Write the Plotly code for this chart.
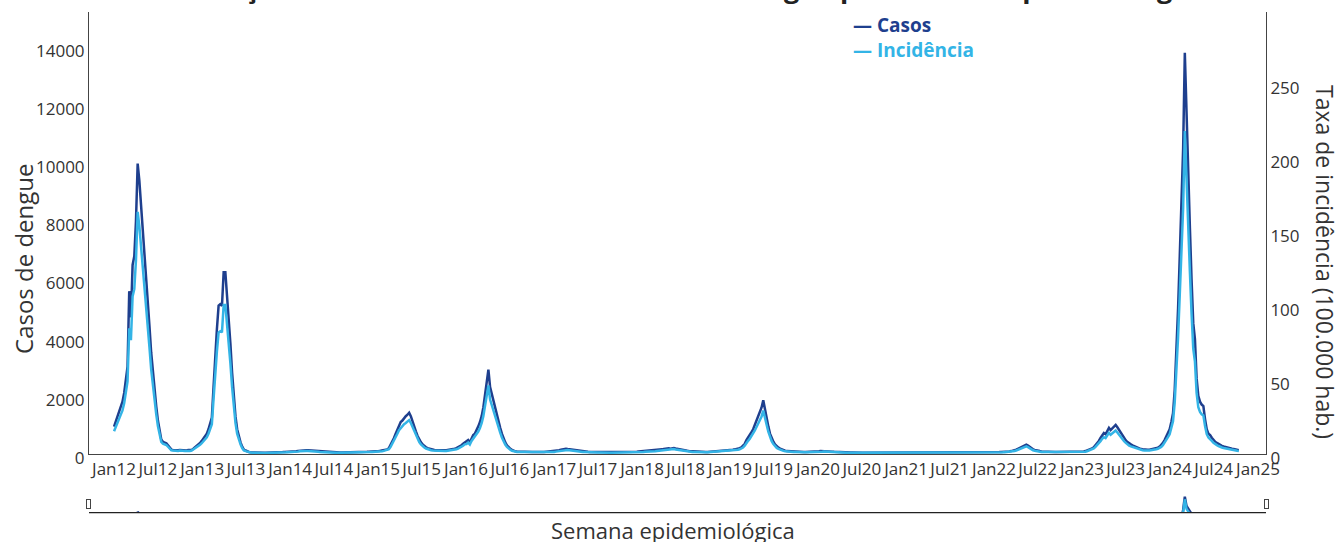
import pandas as pd
import plotly.graph_objects as go

# ---------------- data (weekly) ----------------
casos_2012 = [940, 1100, 1300, 1450, 1650, 1800, 2100, 2500, 3000, 5600,
              4700, 6500, 6800, 8000, 9990, 9400, 8600, 7800, 7000, 6300,
              5300, 4400, 3500, 2800, 2200, 1650, 1150, 750, 500, 420,
              400, 370, 300, 220, 150, 140, 130, 120, 130, 140,
              130, 120, 130, 120, 140, 130, 140, 180, 230, 260,
              310, 380]
casos_2013 = [450, 520, 600, 700, 850, 1050, 1250, 2300, 3550, 4300,
              5100, 5150, 5100, 6250, 6250, 5500, 4800, 3800, 2800, 1850,
              1300, 850, 600, 400, 250, 150, 120, 90, 70, 60,
              55, 50, 50, 45, 45, 40, 40, 40, 45, 45,
              40, 40, 45, 50, 50, 55, 60, 60, 65, 70,
              70, 75]
casos_2014 = [75, 80, 85, 90, 95, 100, 110, 120, 125, 130,
              130, 125, 120, 115, 110, 100, 95, 90, 85, 80,
              75, 70, 65, 60, 60, 55, 55, 50, 50, 50,
              50, 50, 50, 50, 55, 55, 55, 60, 60, 60,
              60, 65, 65, 70, 70, 75, 75, 80, 80, 85,
              85, 90, 95]
casos_2015 = [100, 110, 120, 130, 140, 160, 200, 300, 420, 550,
              700, 850, 1000, 1100, 1150, 1250, 1300, 1350, 1420, 1300,
              1150, 950, 780, 620, 500, 400, 330, 270, 230, 200,
              180, 160, 150, 140, 130, 125, 120, 120, 120, 125,
              130, 135, 140, 150, 160, 180, 200, 230, 260, 300,
              350, 400]
casos_2016 = [420, 480, 400, 550, 650, 700, 800, 950, 1100, 1300,
              1600, 2000, 2400, 2900, 2300, 2050, 1850, 1650, 1400, 1150,
              900, 700, 520, 400, 300, 230, 180, 140, 110, 90,
              85, 80, 80, 75, 75, 70, 70, 70, 65, 65,
              65, 60, 60, 60, 60, 65, 65, 70, 70, 75,
              80, 85]
casos_2017 = [90, 100, 110, 130, 150, 165, 175, 180, 170, 160,
              150, 140, 130, 120, 110, 100, 95, 90, 85, 80,
              75, 70, 70, 65, 65, 60, 60, 60, 55, 55,
              55, 55, 55, 55, 55, 55, 60, 60, 60, 60,
              65, 65, 65, 70, 70, 70, 75, 75, 80, 80,
              85, 90]
casos_2018 = [90, 90, 95, 95, 100, 100, 105, 110, 120, 130,
              140, 150, 160, 175, 190, 200, 195, 185, 200, 205,
              190, 175, 160, 150, 140, 130, 120, 110, 100, 95,
              90, 85, 80, 80, 75, 75, 75, 70, 70, 70,
              75, 75, 80, 80, 85, 85, 90, 95, 100, 105,
              110, 120]
casos_2019 = [130, 140, 150, 160, 170, 180, 200, 230, 280, 350,
              480, 560, 650, 750, 850, 1000, 1150, 1300, 1450, 1600,
              1850, 1500, 1250, 950, 700, 550, 420, 330, 260, 220,
              180, 150, 130, 115, 100, 95, 90, 85, 80, 80,
              75, 75, 70, 70, 70, 70, 70, 70, 75, 75,
              80, 85]
casos_2020 = [90, 95, 100, 100, 105, 100, 95, 90, 85, 80,
              75, 70, 65, 60, 60, 55, 55, 50, 50, 50,
              50, 50, 45, 45, 48, 45, 45, 42, 45, 45,
              45, 48, 45, 45, 42, 45, 45, 45, 45, 48,
              45, 45, 45, 42, 45, 45, 45, 45, 45, 50,
              50, 50, 50]
casos_2021 = [50, 50, 50, 50, 50, 50, 45, 45, 45, 45,
              45, 45, 45, 40, 40, 40, 40, 40, 40, 40,
              40, 40, 40, 40, 40, 40, 40, 40, 40, 40,
              40, 40, 40, 40, 40, 40, 40, 40, 40, 40,
              40, 40, 45, 45, 45, 45, 50, 50, 50, 50,
              55, 55]
casos_2022 = [60, 60, 65, 65, 70, 70, 75, 80, 85, 90,
              100, 110, 130, 150, 180, 210, 240, 280, 300, 320,
              290, 240, 200, 160, 140, 120, 110, 100, 90, 85,
              80, 75, 75, 70, 70, 70, 70, 70, 70, 70,
              70, 70, 75, 75, 75, 80, 80, 80, 80, 80,
              80, 80]
casos_2023 = [80, 90, 100, 120, 150, 170, 190, 230, 300, 380,
              450, 550, 650, 720, 680, 800, 900, 820, 870, 950,
              1000, 920, 820, 720, 620, 540, 470, 410, 360, 330,
              300, 270, 240, 210, 190, 170, 160, 150, 140, 145,
              150, 160, 170, 180, 200, 220, 250, 300, 380, 480,
              600, 720]
casos_2024 = [850, 1100, 1400, 2200, 3500, 5000, 6800, 8500, 10500, 13800,
              11500, 9800, 7800, 6000, 4500, 3950, 2600, 2000, 1800, 1700,
              1650, 1200, 850, 700, 650, 560, 480, 420, 380, 340,
              300, 280, 260, 240, 220, 200, 190, 180, 170, 150,
              140, 130]

inc_2012 = [15.4, 18.0, 21.3, 23.8, 27.0, 29.5, 34.4, 41.0, 49.2, 85.0,
            77.0, 106.6, 111.5, 131.1, 163.8, 154.1, 141.0, 127.9, 114.8, 103.3,
            86.9, 72.1, 57.4, 45.9, 36.1, 27.0, 18.9, 12.3, 8.2, 6.9,
            6.6, 6.1, 4.9, 3.6, 2.5, 2.3, 2.1, 2.0, 2.1, 2.3,
            2.1, 2.0, 2.1, 2.0, 2.3, 2.1, 2.3, 3.0, 3.8, 4.3,
            5.1, 6.2]
inc_2013 = [7.3, 8.4, 9.7, 11.3, 13.7, 16.9, 20.2, 37.1, 57.3, 69.4,
            82.3, 83.1, 82.3, 100.8, 100.8, 88.7, 77.4, 61.3, 45.2, 29.8,
            21.0, 13.7, 9.7, 6.5, 4.0, 2.4, 1.9, 1.5, 1.1, 1.0,
            0.9, 0.8, 0.8, 0.7, 0.7, 0.6, 0.6, 0.6, 0.7, 0.7,
            0.6, 0.6, 0.7, 0.8, 0.8, 0.9, 1.0, 1.0, 1.0, 1.1,
            1.1, 1.2]
inc_2014 = [1.2, 1.3, 1.4, 1.5, 1.5, 1.6, 1.8, 2.0, 2.0, 2.1,
            2.1, 2.0, 2.0, 1.9, 1.8, 1.6, 1.5, 1.5, 1.4, 1.3,
            1.2, 1.1, 1.1, 1.0, 1.0, 0.9, 0.9, 0.8, 0.8, 0.8,
            0.8, 0.8, 0.8, 0.8, 0.9, 0.9, 0.9, 1.0, 1.0, 1.0,
            1.0, 1.1, 1.1, 1.1, 1.1, 1.2, 1.2, 1.3, 1.3, 1.4,
            1.4, 1.5, 1.5]
inc_2015 = [1.6, 1.8, 1.9, 2.1, 2.3, 2.6, 3.2, 4.8, 6.8, 8.9,
            11.3, 13.7, 16.1, 17.7, 18.5, 20.2, 21.0, 21.8, 22.9, 21.0,
            18.5, 15.3, 12.6, 10.0, 8.1, 6.5, 5.3, 4.4, 3.7, 3.2,
            2.9, 2.6, 2.4, 2.3, 2.1, 2.0, 1.9, 1.9, 1.9, 2.0,
            2.1, 2.2, 2.3, 2.4, 2.6, 2.9, 3.2, 3.7, 4.2, 4.8,
            5.6, 6.5]
inc_2016 = [6.7, 7.7, 6.4, 8.8, 10.4, 11.2, 12.8, 15.2, 17.6, 20.8,
            25.6, 32.0, 38.4, 46.4, 36.8, 32.8, 29.6, 26.4, 22.4, 18.4,
            14.4, 11.2, 8.3, 6.4, 4.8, 3.7, 2.9, 2.2, 1.8, 1.4,
            1.4, 1.3, 1.3, 1.2, 1.2, 1.1, 1.1, 1.1, 1.0, 1.0,
            1.0, 1.0, 1.0, 1.0, 1.0, 1.0, 1.0, 1.1, 1.1, 1.2,
            1.3, 1.4]
inc_2017 = [1.4, 1.6, 1.8, 2.1, 2.4, 2.6, 2.8, 2.9, 2.7, 2.6,
            2.4, 2.2, 2.1, 1.9, 1.8, 1.6, 1.5, 1.4, 1.4, 1.3,
            1.2, 1.1, 1.1, 1.0, 1.0, 1.0, 1.0, 1.0, 0.9, 0.9,
            0.9, 0.9, 0.9, 0.9, 0.9, 0.9, 1.0, 1.0, 1.0, 1.0,
            1.0, 1.0, 1.0, 1.1, 1.1, 1.1, 1.2, 1.2, 1.3, 1.3,
            1.4, 1.4]
inc_2018 = [1.4, 1.4, 1.5, 1.5, 1.6, 1.6, 1.7, 1.8, 1.9, 2.1,
            2.2, 2.4, 2.6, 2.8, 3.0, 3.2, 3.1, 3.0, 3.2, 3.3,
            3.0, 2.8, 2.6, 2.4, 2.2, 2.1, 1.9, 1.8, 1.6, 1.5,
            1.4, 1.4, 1.3, 1.3, 1.2, 1.2, 1.2, 1.1, 1.1, 1.1,
            1.2, 1.2, 1.3, 1.3, 1.4, 1.4, 1.4, 1.5, 1.6, 1.7,
            1.8, 1.9]
inc_2019 = [2.1, 2.2, 2.4, 2.5, 2.7, 2.9, 3.2, 3.7, 4.4, 5.6,
            7.6, 8.9, 10.3, 11.9, 13.5, 15.9, 18.3, 20.6, 23.0, 25.4,
            29.4, 23.8, 19.8, 15.1, 11.1, 8.7, 6.7, 5.2, 4.1, 3.5,
            2.9, 2.4, 2.1, 1.8, 1.6, 1.5, 1.4, 1.3, 1.3, 1.3,
            1.2, 1.2, 1.1, 1.1, 1.1, 1.1, 1.1, 1.1, 1.2, 1.2,
            1.3, 1.3]
inc_2020 = [1.4, 1.5, 1.6, 1.6, 1.7, 1.6, 1.5, 1.4, 1.3, 1.3,
            1.2, 1.1, 1.0, 1.0, 1.0, 0.9, 0.9, 0.8, 0.8, 0.8,
            0.8, 0.8, 0.7, 0.7, 0.8, 0.7, 0.7, 0.7, 0.7, 0.7,
            0.7, 0.8, 0.7, 0.7, 0.7, 0.7, 0.7, 0.7, 0.7, 0.8,
            0.7, 0.7, 0.7, 0.7, 0.7, 0.7, 0.7, 0.7, 0.7, 0.8,
            0.8, 0.8, 0.8]
inc_2021 = [0.8, 0.8, 0.8, 0.8, 0.8, 0.8, 0.7, 0.7, 0.7, 0.7,
            0.7, 0.7, 0.7, 0.6, 0.6, 0.6, 0.6, 0.6, 0.6, 0.6,
            0.6, 0.6, 0.6, 0.6, 0.6, 0.6, 0.6, 0.6, 0.6, 0.6,
            0.6, 0.6, 0.6, 0.6, 0.6, 0.6, 0.6, 0.6, 0.6, 0.6,
            0.6, 0.6, 0.7, 0.7, 0.7, 0.7, 0.8, 0.8, 0.8, 0.8,
            0.9, 0.9]
inc_2022 = [1.0, 1.0, 1.0, 1.0, 1.1, 1.1, 1.2, 1.3, 1.3, 1.4,
            1.6, 1.7, 2.1, 2.4, 2.9, 3.3, 3.8, 4.4, 4.8, 5.1,
            4.6, 3.8, 3.2, 2.5, 2.2, 1.9, 1.7, 1.6, 1.4, 1.3,
            1.3, 1.2, 1.2, 1.1, 1.1, 1.1, 1.1, 1.1, 1.1, 1.1,
            1.1, 1.1, 1.2, 1.2, 1.2, 1.3, 1.3, 1.3, 1.3, 1.3,
            1.3, 1.3]
inc_2023 = [1.3, 1.4, 1.6, 1.9, 2.4, 2.7, 3.0, 3.7, 4.8, 6.0,
            7.1, 8.7, 10.3, 11.4, 10.8, 12.7, 14.3, 13.0, 13.8, 15.1,
            15.9, 14.6, 13.0, 11.4, 9.8, 8.6, 7.5, 6.5, 5.7, 5.2,
            4.8, 4.3, 3.8, 3.3, 3.0, 2.7, 2.5, 2.4, 2.2, 2.3,
            2.4, 2.5, 2.7, 2.9, 3.2, 3.5, 4.0, 4.8, 6.0, 7.6,
            9.5, 11.4]
inc_2024 = [13.4, 17.4, 22.2, 34.8, 55.4, 79.1, 107.6, 134.5, 166.1, 218.4,
            182.0, 155.1, 123.4, 94.9, 71.2, 62.5, 41.1, 31.6, 28.5, 26.9,
            26.1, 19.0, 13.4, 11.1, 10.3, 8.9, 7.6, 6.6, 6.0, 5.4,
            4.7, 4.4, 4.1, 3.8, 3.5, 3.2, 3.0, 2.8, 2.7, 2.4,
            2.2, 2.1]

casos_anos = [casos_2012, casos_2013, casos_2014, casos_2015, casos_2016, casos_2017,
              casos_2018, casos_2019, casos_2020, casos_2021, casos_2022, casos_2023,
              casos_2024]
inc_anos = [inc_2012, inc_2013, inc_2014, inc_2015, inc_2016, inc_2017,
            inc_2018, inc_2019, inc_2020, inc_2021, inc_2022, inc_2023, inc_2024]

casos = [v for ano in casos_anos for v in ano]
incidencia = [v for ano in inc_anos for v in ano]
n = min(len(casos), len(incidencia))
casos, incidencia = casos[:n], incidencia[:n]
semanas = pd.date_range("2012-01-01", periods=n, freq="7D")

titulo = "Distribuição de casos e taxa de incidência de dengue por semana epidemiológica"
nome_casos = "Casos"
nome_inc = "Incidência"
titulo_y1 = "Casos de dengue"
titulo_y2 = "Taxa de incidência (100.000 hab.)"
titulo_x = "Semana epidemiológica"

# ---------------- styling ----------------
COR_CASOS = "#1e3f8e"
COR_INC = "#33b4e6"
TXT = "#333333"
FONT = "Open Sans"
x_range = ["2011-09-19", "2025-02-03"]

fig = go.Figure()
fig.add_trace(go.Scatter(x=semanas, y=casos, name=nome_casos, mode="lines",
                         line=dict(color=COR_CASOS, width=2.5), yaxis="y",
                         showlegend=False))
fig.add_trace(go.Scatter(x=semanas, y=incidencia, name=nome_inc, mode="lines",
                         line=dict(color=COR_INC, width=2.5), yaxis="y2",
                         showlegend=False))

fig.update_layout(
    width=1338, height=542,
    margin=dict(l=89, r=72, t=12, b=88, autoexpand=False),
    paper_bgcolor="white", plot_bgcolor="white",
    font=dict(family=FONT, color=TXT, size=17),
    title=dict(text=f"<b>{titulo}</b>", font=dict(size=27, color="#222222"),
               x=0.5, xanchor="center", xref="container",
               y=1, yref="paper", yanchor="bottom", pad=dict(b=14)),
    xaxis=dict(range=x_range, showline=True, linecolor="#444", linewidth=1,
               showgrid=False, zeroline=False, ticks="", tickangle=0,
               tickformat="%b%y", dtick="M6", tick0="2012-01-01",
               tickfont=dict(size=17, color=TXT),
               rangeslider=dict(visible=True, thickness=0.0385, bgcolor="white",
                                range=x_range,
                                yaxis=dict(rangemode="fixed", range=[10000, 14200]))),
    yaxis=dict(range=[0, 15200], dtick=2000, tickformat="d", showline=True,
               linecolor="#444", showgrid=False, zeroline=False, ticks="",
               ticklabelshift=4, tickfont=dict(size=17, color=TXT)),
    yaxis2=dict(range=[0, 299], dtick=50, tickformat="d", overlaying="y", side="right",
                showline=True, linecolor="#444", showgrid=False, zeroline=False,
                ticks="", ticklabelshift=4, tickfont=dict(size=17, color=TXT)),
    shapes=[
        dict(type="line", xref="paper", yref="paper", x0=0, x1=1,
             y0=-0.1324, y1=-0.1324, line=dict(color="#222222", width=1.5)),
    ],
    annotations=[
        dict(xref="paper", yref="paper", x=0.6474, y=0.9706, xanchor="left",
             yanchor="middle", showarrow=False,
             text=f"<b>— {nome_casos}</b>", font=dict(size=19, color=COR_CASOS)),
        dict(xref="paper", yref="paper", x=0.6474, y=0.914, xanchor="left",
             yanchor="middle", showarrow=False,
             text=f"<b>— {nome_inc}</b>", font=dict(size=19, color=COR_INC)),
        dict(xref="paper", yref="paper", x=-0.0561, y=0.4434, xanchor="center",
             yanchor="middle", showarrow=False, textangle=-90,
             text=titulo_y1, font=dict(size=24, color=TXT)),
        dict(xref="paper", yref="paper", x=1.0501, y=0.4344, xanchor="center",
             yanchor="middle", showarrow=False, textangle=90,
             text=titulo_y2, font=dict(size=23, color=TXT)),
        dict(xref="paper", yref="paper", x=0.4962, y=-0.172, xanchor="center",
             yanchor="middle", showarrow=False,
             text=titulo_x, font=dict(size=22, color=TXT)),
    ],
)

post = (
    "document.body.style.margin='0px';"
    "var gd=document.getElementById('{plot_id}');"
    "return Plotly.relayout(gd, {'xaxis.rangeslider.yaxis2.rangemode':'fixed',"
    "'xaxis.rangeslider.yaxis2.range':[170,235]});"
)
fig.write_html("out.html", config={"displayModeBar": False}, post_script=post)
